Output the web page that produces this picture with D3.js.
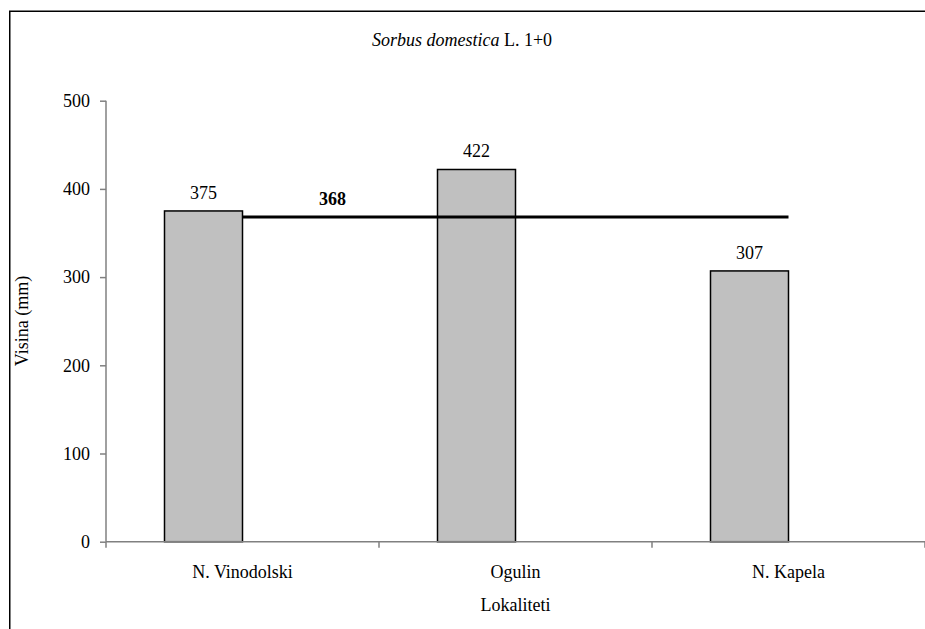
<!DOCTYPE html>
<html>
<head>
<meta charset="utf-8">
<script src="https://cdn.jsdelivr.net/npm/d3@7"></script>
<style>
  html, body { margin: 0; padding: 0; background: #fff; overflow: hidden; }
  svg { display: block; }
  svg text { font-family: "Liberation Serif", "Times New Roman", Times, "DejaVu Serif", serif !important; fill: #000; }
</style>
</head>
<body>
<svg id="chart" width="925" height="629"></svg>
<script>
const categories = ["N. Vinodolski", "Ogulin", "N. Kapela"];
const values = [375, 422, 307];
const meanValues = [368, 368, 368];
const meanLabel = "368";
const yTicks = [0, 100, 200, 300, 400, 500];

const W = 925, H = 629;
const FONT = "'Liberation Serif', 'Times New Roman', Times, 'DejaVu Serif', serif";
const svg = d3.select("#chart");
const fontSize = 18;

// outer frame: only top and left edges are visible in the reference
svg.append("path")
  .attr("d", `M9.75,${H}V11.25H${W}`)
  .attr("fill", "none").attr("stroke", "#000").attr("stroke-width", 1.5);

const plotLeft = 106, plotRight = 925, plotTop = 100.7, plotBottom = 541.7;

const x = d3.scaleBand().domain(categories).range([plotLeft, plotRight]).padding(0);
const y = d3.scaleLinear().domain([0, 500]).range([plotBottom, plotTop]);

const bw = x.bandwidth();
const barW = bw / (2 + 1.5);

// bars
svg.append("g").selectAll("rect")
  .data(categories)
  .join("rect")
  .attr("x", d => x(d) + bw / 2 - barW)
  .attr("y", (d, i) => y(values[i]))
  .attr("width", barW)
  .attr("height", (d, i) => y(0) - y(values[i]))
  .attr("fill", "#c0c0c0")
  .attr("stroke", "#000")
  .attr("stroke-width", 1.5);

// value labels
svg.append("g").selectAll("text")
  .data(categories)
  .join("text")
  .attr("x", d => x(d) + bw / 2 - barW / 2)
  .attr("y", (d, i) => y(values[i]) - 12)
  .attr("text-anchor", "middle")
  .attr("font-family", FONT)
  .attr("font-size", fontSize)
  .text((d, i) => values[i]);

// y axis
const yAxis = d3.axisLeft(y).tickValues(yTicks).tickSize(6).tickPadding(10).tickFormat(d3.format("d"));
const gy = svg.append("g").attr("transform", `translate(${plotLeft},0)`).call(yAxis)
  .attr("font-family", FONT).attr("font-size", fontSize);
gy.select(".domain").attr("stroke", "#808080").attr("stroke-width", 1.5).attr("d", `M0,${plotTop}V${plotBottom}`);
gy.selectAll(".tick line").attr("stroke", "#808080").attr("stroke-width", 1.5);
gy.selectAll(".tick text").attr("fill", "#000");

// x axis
const xAxis = d3.axisBottom(x).tickSize(0).tickPadding(24);
const gx = svg.append("g").attr("transform", `translate(0,${plotBottom})`).call(xAxis)
  .attr("font-family", FONT).attr("font-size", fontSize);
gx.select(".domain").attr("stroke", "#808080").attr("stroke-width", 1.5).attr("d", `M${plotLeft},0H${plotRight}`);
gx.selectAll(".tick text").attr("fill", "#000");
// boundary tick marks between categories
const boundaries = categories.map(c => x(c)).concat([x(categories[categories.length - 1]) + bw]);
gx.append("g").selectAll("line")
  .data(boundaries)
  .join("line")
  .attr("x1", d => d).attr("x2", d => d)
  .attr("y1", 0).attr("y2", 6)
  .attr("stroke", "#808080").attr("stroke-width", 1.5);

// mean line
const line = d3.line()
  .x((d, i) => x(categories[i]) + bw / 2)
  .y(d => y(d));
svg.append("path")
  .datum(meanValues)
  .attr("d", line)
  .attr("fill", "none")
  .attr("stroke", "#000")
  .attr("stroke-width", 3);

svg.append("text")
  .attr("x", x(categories[0]) + bw / 2 + bw * 0.33)
  .attr("y", y(meanValues[0]) - 12)
  .attr("text-anchor", "middle")
  .attr("font-family", FONT)
  .attr("font-size", fontSize)
  .attr("font-weight", "bold")
  .text(meanLabel);

// title
const title = svg.append("text")
  .attr("x", 462).attr("y", 46)
  .attr("text-anchor", "middle")
  .attr("font-family", FONT)
  .attr("font-size", fontSize);
title.append("tspan").attr("font-style", "italic").text("Sorbus domestica");
title.append("tspan").text(" L. 1+0");

// axis titles
svg.append("text")
  .attr("transform", "translate(28,321) rotate(-90)")
  .attr("text-anchor", "middle")
  .attr("font-family", FONT)
  .attr("font-size", fontSize)
  .text("Visina (mm)");

svg.append("text")
  .attr("x", x(categories[1]) + bw / 2).attr("y", 611)
  .attr("text-anchor", "middle")
  .attr("font-family", FONT)
  .attr("font-size", fontSize)
  .text("Lokaliteti");
</script>
</body>
</html>
